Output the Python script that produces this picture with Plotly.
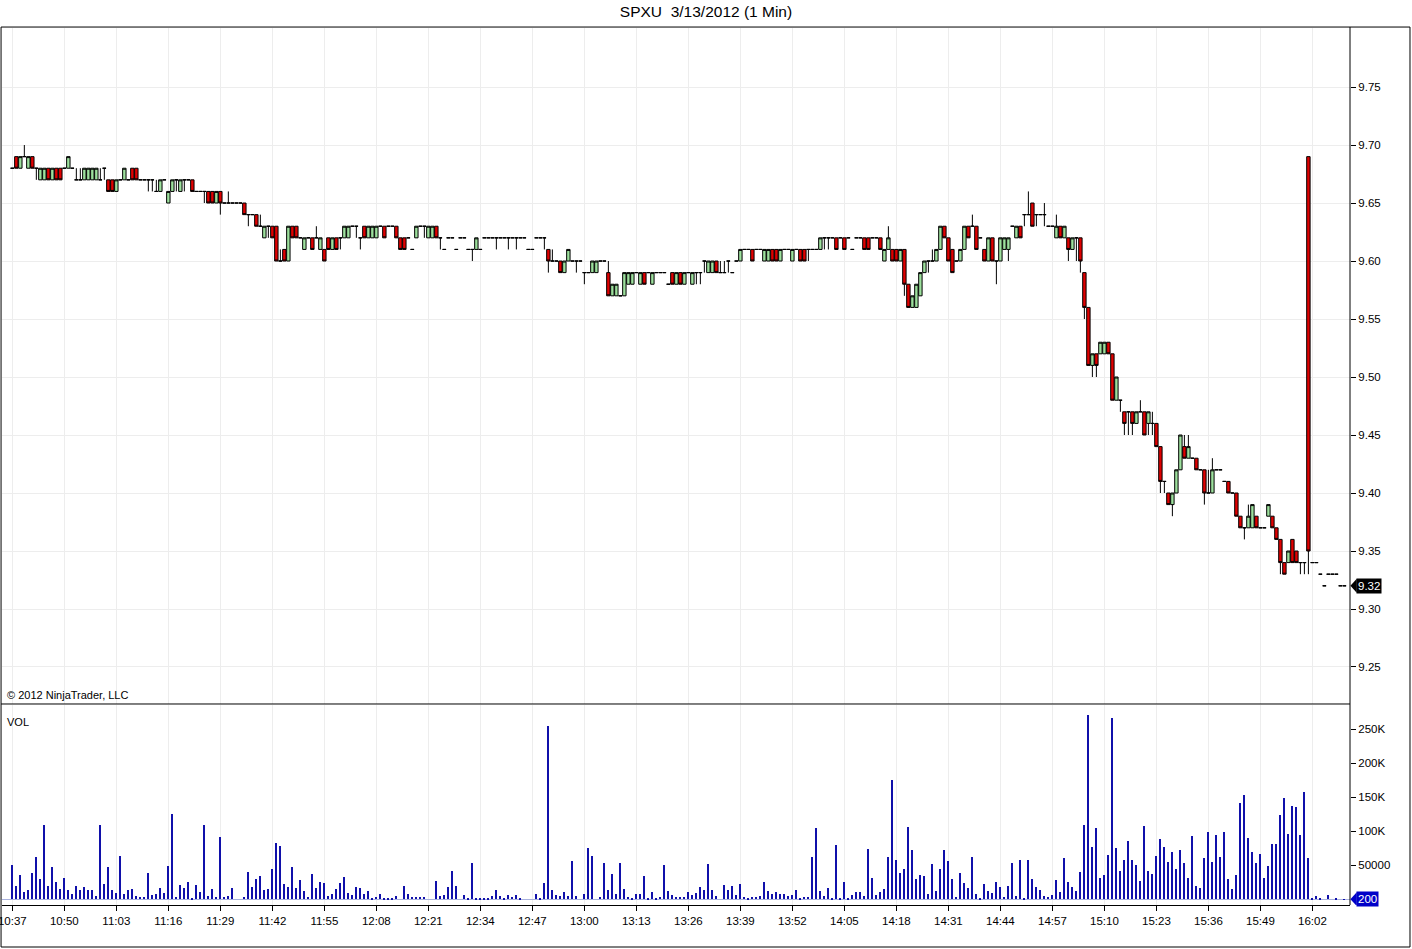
import pandas as pd
import plotly.graph_objects as go
from plotly.subplots import make_subplots

title = "SPXU\u00a0 3/13/2012 (1 Min)"
start = "2012-03-13 10:37"

# 1-minute bars from 10:37
opens = [
    9.68, 9.69, 9.68, 9.69, 9.68, 9.69, 9.68, 9.67, 9.67, 9.68,
    9.67, 9.68, 9.68, 9.68, 9.68, 9.68, 9.67, 9.67, 9.67, 9.67,
    9.67, 9.67, 9.67, 9.68, 9.67, 9.67, 9.66, 9.67, 9.67, 9.67,
    9.68, 9.68, 9.67, 9.67, 9.67, 9.67, 9.66, 9.66, 9.67, 9.65,
    9.66, 9.67, 9.66, 9.67, 9.67, 9.67, 9.66, 9.66, 9.66, 9.66,
    9.66, 9.65, 9.66, 9.65, 9.65, 9.65, 9.65, 9.65, 9.65, 9.64,
    9.64, 9.64, 9.63, 9.62, 9.63, 9.63, 9.63, 9.60, 9.61, 9.60,
    9.63, 9.63, 9.62, 9.61, 9.62, 9.62, 9.62, 9.61, 9.61, 9.62,
    9.61, 9.62, 9.62, 9.62, 9.62, 9.63, 9.63, 9.62, 9.63, 9.62,
    9.62, 9.62, 9.63, 9.63, 9.63, 9.63, 9.63, 9.62, 9.62, 9.62,
    9.61, 9.62, 9.63, 9.63, 9.62, 9.62, 9.63, 9.62, 9.61, 9.62,
    9.62, 9.61, 9.62, 9.62, 9.61, 9.61, 9.61, 9.61, 9.62, 9.62,
    9.62, 9.62, 9.62, 9.62, 9.62, 9.62, 9.62, 9.62, 9.62, 9.61,
    9.61, 9.62, 9.62, 9.62, 9.61, 9.60, 9.60, 9.60, 9.59, 9.60,
    9.60, 9.60, 9.60, 9.59, 9.59, 9.59, 9.59, 9.60, 9.60, 9.59,
    9.57, 9.57, 9.57, 9.57, 9.58, 9.58, 9.59, 9.58, 9.59, 9.59,
    9.58, 9.59, 9.59, 9.59, 9.58, 9.59, 9.58, 9.59, 9.58, 9.59,
    9.58, 9.59, 9.59, 9.60, 9.59, 9.59, 9.60, 9.59, 9.59, 9.60,
    9.59, 9.60, 9.60, 9.61, 9.61, 9.61, 9.61, 9.61, 9.60, 9.60,
    9.61, 9.61, 9.60, 9.61, 9.61, 9.60, 9.61, 9.61, 9.61, 9.61,
    9.61, 9.61, 9.61, 9.62, 9.62, 9.62, 9.62, 9.62, 9.62, 9.62,
    9.61, 9.62, 9.62, 9.62, 9.62, 9.62, 9.62, 9.62, 9.60, 9.61,
    9.61, 9.61, 9.60, 9.61, 9.58, 9.56, 9.56, 9.57, 9.59, 9.60,
    9.60, 9.60, 9.61, 9.63, 9.62, 9.61, 9.60, 9.60, 9.61, 9.63,
    9.63, 9.63, 9.62, 9.61, 9.60, 9.62, 9.60, 9.60, 9.61, 9.61,
    9.63, 9.62, 9.63, 9.64, 9.64, 9.65, 9.64, 9.64, 9.64, 9.63,
    9.63, 9.62, 9.63, 9.62, 9.62, 9.61, 9.62, 9.62, 9.59, 9.56,
    9.51, 9.52, 9.52, 9.52, 9.53, 9.52, 9.48, 9.48, 9.47, 9.47,
    9.47, 9.46, 9.47, 9.47, 9.46, 9.46, 9.46, 9.44, 9.41, 9.40,
    9.39, 9.40, 9.42, 9.44, 9.43, 9.43, 9.43, 9.42, 9.42, 9.40,
    9.40, 9.42, 9.42, 9.41, 9.41, 9.40, 9.40, 9.38, 9.37, 9.37,
    9.37, 9.38, 9.37, 9.37, 9.38, 9.38, 9.37, 9.36, 9.34, 9.34,
    9.36, 9.35, 9.34, 9.34, 9.69, 9.34, 9.34, 9.33, 9.32, 9.33,
    9.33, 9.33, 9.32, 9.32,
]
highs = [
    9.68, 9.69, 9.69, 9.70, 9.69, 9.69, 9.68, 9.68, 9.68, 9.68,
    9.68, 9.68, 9.68, 9.68, 9.69, 9.68, 9.68, 9.68, 9.68, 9.68,
    9.68, 9.68, 9.68, 9.68, 9.67, 9.67, 9.67, 9.67, 9.68, 9.67,
    9.68, 9.68, 9.67, 9.67, 9.67, 9.67, 9.67, 9.67, 9.67, 9.66,
    9.67, 9.67, 9.67, 9.67, 9.67, 9.67, 9.66, 9.66, 9.66, 9.66,
    9.66, 9.66, 9.66, 9.65, 9.66, 9.65, 9.65, 9.65, 9.65, 9.64,
    9.64, 9.64, 9.64, 9.63, 9.63, 9.63, 9.63, 9.61, 9.61, 9.63,
    9.63, 9.63, 9.62, 9.62, 9.62, 9.62, 9.63, 9.62, 9.61, 9.62,
    9.62, 9.62, 9.62, 9.63, 9.63, 9.63, 9.63, 9.62, 9.63, 9.63,
    9.63, 9.63, 9.63, 9.63, 9.63, 9.63, 9.63, 9.62, 9.62, 9.62,
    9.61, 9.63, 9.63, 9.63, 9.63, 9.63, 9.63, 9.62, 9.61, 9.62,
    9.62, 9.61, 9.62, 9.62, 9.61, 9.61, 9.62, 9.61, 9.62, 9.62,
    9.62, 9.62, 9.62, 9.62, 9.62, 9.62, 9.62, 9.62, 9.62, 9.61,
    9.61, 9.62, 9.62, 9.62, 9.61, 9.61, 9.60, 9.60, 9.60, 9.61,
    9.60, 9.60, 9.60, 9.59, 9.59, 9.60, 9.60, 9.60, 9.60, 9.60,
    9.58, 9.58, 9.57, 9.59, 9.59, 9.59, 9.59, 9.59, 9.59, 9.59,
    9.59, 9.59, 9.59, 9.59, 9.58, 9.59, 9.59, 9.59, 9.59, 9.59,
    9.59, 9.59, 9.59, 9.60, 9.60, 9.60, 9.60, 9.60, 9.60, 9.60,
    9.59, 9.60, 9.61, 9.61, 9.61, 9.61, 9.61, 9.61, 9.61, 9.61,
    9.61, 9.61, 9.61, 9.61, 9.61, 9.61, 9.61, 9.61, 9.61, 9.61,
    9.61, 9.61, 9.62, 9.62, 9.62, 9.62, 9.62, 9.62, 9.62, 9.62,
    9.61, 9.62, 9.62, 9.62, 9.62, 9.62, 9.62, 9.62, 9.61, 9.63,
    9.61, 9.61, 9.61, 9.61, 9.58, 9.57, 9.58, 9.59, 9.60, 9.60,
    9.61, 9.61, 9.63, 9.63, 9.62, 9.61, 9.60, 9.61, 9.63, 9.63,
    9.64, 9.63, 9.62, 9.61, 9.62, 9.62, 9.60, 9.62, 9.62, 9.62,
    9.63, 9.63, 9.63, 9.64, 9.66, 9.65, 9.64, 9.64, 9.65, 9.63,
    9.63, 9.64, 9.63, 9.63, 9.62, 9.62, 9.62, 9.62, 9.59, 9.56,
    9.52, 9.52, 9.53, 9.53, 9.53, 9.52, 9.50, 9.48, 9.47, 9.47,
    9.47, 9.47, 9.48, 9.47, 9.47, 9.47, 9.46, 9.44, 9.41, 9.40,
    9.40, 9.42, 9.45, 9.45, 9.45, 9.43, 9.43, 9.42, 9.42, 9.42,
    9.43, 9.42, 9.42, 9.41, 9.41, 9.40, 9.40, 9.38, 9.37, 9.39,
    9.39, 9.38, 9.37, 9.37, 9.39, 9.38, 9.37, 9.36, 9.34, 9.35,
    9.36, 9.35, 9.34, 9.34, 9.69, 9.34, 9.34, 9.33, 9.32, 9.33,
    9.33, 9.33, 9.32, 9.32,
]
lows = [
    9.68, 9.68, 9.68, 9.69, 9.68, 9.68, 9.67, 9.67, 9.67, 9.67,
    9.67, 9.67, 9.67, 9.68, 9.68, 9.68, 9.67, 9.67, 9.67, 9.67,
    9.67, 9.67, 9.67, 9.67, 9.66, 9.66, 9.66, 9.67, 9.67, 9.67,
    9.67, 9.67, 9.67, 9.67, 9.66, 9.66, 9.66, 9.66, 9.67, 9.65,
    9.66, 9.66, 9.66, 9.66, 9.67, 9.66, 9.66, 9.66, 9.65, 9.65,
    9.65, 9.65, 9.64, 9.65, 9.65, 9.65, 9.65, 9.65, 9.64, 9.63,
    9.64, 9.63, 9.63, 9.62, 9.62, 9.62, 9.60, 9.60, 9.60, 9.60,
    9.62, 9.62, 9.62, 9.61, 9.62, 9.61, 9.62, 9.61, 9.60, 9.61,
    9.61, 9.61, 9.61, 9.62, 9.62, 9.63, 9.62, 9.61, 9.62, 9.62,
    9.62, 9.62, 9.63, 9.62, 9.63, 9.63, 9.62, 9.61, 9.61, 9.62,
    9.61, 9.62, 9.63, 9.62, 9.62, 9.62, 9.62, 9.61, 9.61, 9.62,
    9.62, 9.61, 9.62, 9.62, 9.61, 9.60, 9.61, 9.61, 9.62, 9.62,
    9.62, 9.61, 9.62, 9.62, 9.61, 9.62, 9.61, 9.62, 9.62, 9.61,
    9.61, 9.62, 9.62, 9.61, 9.59, 9.60, 9.60, 9.59, 9.59, 9.60,
    9.60, 9.59, 9.60, 9.58, 9.59, 9.59, 9.59, 9.60, 9.60, 9.57,
    9.57, 9.57, 9.57, 9.57, 9.58, 9.58, 9.59, 9.58, 9.58, 9.59,
    9.58, 9.59, 9.59, 9.59, 9.58, 9.58, 9.58, 9.58, 9.58, 9.59,
    9.58, 9.58, 9.58, 9.59, 9.59, 9.59, 9.59, 9.59, 9.59, 9.59,
    9.59, 9.60, 9.60, 9.61, 9.61, 9.60, 9.61, 9.61, 9.60, 9.60,
    9.60, 9.60, 9.60, 9.61, 9.61, 9.60, 9.61, 9.60, 9.60, 9.60,
    9.61, 9.61, 9.61, 9.61, 9.61, 9.62, 9.61, 9.62, 9.61, 9.62,
    9.61, 9.62, 9.62, 9.61, 9.61, 9.62, 9.62, 9.61, 9.60, 9.61,
    9.60, 9.60, 9.60, 9.57, 9.56, 9.56, 9.56, 9.57, 9.59, 9.59,
    9.60, 9.60, 9.61, 9.62, 9.60, 9.59, 9.60, 9.60, 9.61, 9.62,
    9.63, 9.61, 9.62, 9.60, 9.60, 9.60, 9.58, 9.60, 9.61, 9.60,
    9.63, 9.62, 9.62, 9.63, 9.64, 9.63, 9.63, 9.64, 9.63, 9.63,
    9.63, 9.62, 9.62, 9.62, 9.60, 9.61, 9.60, 9.59, 9.55, 9.51,
    9.50, 9.50, 9.52, 9.52, 9.52, 9.48, 9.48, 9.47, 9.45, 9.45,
    9.45, 9.46, 9.47, 9.45, 9.45, 9.45, 9.44, 9.40, 9.40, 9.39,
    9.38, 9.40, 9.42, 9.43, 9.43, 9.43, 9.42, 9.42, 9.39, 9.40,
    9.40, 9.42, 9.42, 9.41, 9.40, 9.40, 9.38, 9.37, 9.36, 9.37,
    9.37, 9.37, 9.37, 9.37, 9.38, 9.37, 9.36, 9.33, 9.33, 9.34,
    9.34, 9.34, 9.33, 9.33, 9.33, 9.34, 9.34, 9.33, 9.32, 9.33,
    9.33, 9.33, 9.32, 9.32,
]
closes = [
    9.68, 9.68, 9.69, 9.69, 9.69, 9.68, 9.68, 9.68, 9.68, 9.67,
    9.68, 9.67, 9.67, 9.68, 9.69, 9.68, 9.67, 9.67, 9.68, 9.68,
    9.68, 9.68, 9.67, 9.68, 9.66, 9.66, 9.67, 9.67, 9.68, 9.67,
    9.67, 9.67, 9.67, 9.67, 9.67, 9.67, 9.66, 9.67, 9.67, 9.66,
    9.67, 9.67, 9.67, 9.67, 9.67, 9.66, 9.66, 9.66, 9.66, 9.65,
    9.65, 9.66, 9.65, 9.65, 9.65, 9.65, 9.65, 9.65, 9.64, 9.64,
    9.64, 9.63, 9.63, 9.63, 9.63, 9.62, 9.60, 9.60, 9.60, 9.63,
    9.62, 9.62, 9.62, 9.62, 9.62, 9.61, 9.62, 9.62, 9.60, 9.61,
    9.62, 9.61, 9.62, 9.63, 9.63, 9.63, 9.63, 9.62, 9.62, 9.63,
    9.63, 9.63, 9.63, 9.62, 9.63, 9.63, 9.62, 9.61, 9.61, 9.62,
    9.61, 9.63, 9.63, 9.63, 9.63, 9.63, 9.62, 9.62, 9.61, 9.62,
    9.62, 9.61, 9.62, 9.62, 9.61, 9.61, 9.62, 9.61, 9.62, 9.62,
    9.62, 9.62, 9.62, 9.62, 9.62, 9.62, 9.62, 9.62, 9.62, 9.61,
    9.61, 9.62, 9.62, 9.62, 9.60, 9.60, 9.60, 9.59, 9.60, 9.61,
    9.60, 9.60, 9.60, 9.59, 9.59, 9.60, 9.60, 9.60, 9.60, 9.57,
    9.58, 9.58, 9.57, 9.59, 9.59, 9.59, 9.59, 9.59, 9.58, 9.59,
    9.59, 9.59, 9.59, 9.59, 9.58, 9.58, 9.59, 9.58, 9.59, 9.59,
    9.59, 9.59, 9.59, 9.60, 9.60, 9.60, 9.59, 9.59, 9.59, 9.60,
    9.59, 9.60, 9.61, 9.61, 9.61, 9.60, 9.61, 9.61, 9.61, 9.61,
    9.60, 9.60, 9.61, 9.61, 9.61, 9.61, 9.61, 9.60, 9.60, 9.61,
    9.61, 9.61, 9.62, 9.62, 9.62, 9.62, 9.61, 9.62, 9.61, 9.62,
    9.61, 9.62, 9.62, 9.61, 9.61, 9.62, 9.62, 9.61, 9.61, 9.62,
    9.60, 9.60, 9.61, 9.58, 9.56, 9.57, 9.58, 9.59, 9.60, 9.60,
    9.60, 9.61, 9.63, 9.62, 9.60, 9.59, 9.60, 9.61, 9.63, 9.62,
    9.63, 9.61, 9.62, 9.60, 9.62, 9.60, 9.60, 9.62, 9.62, 9.62,
    9.63, 9.63, 9.62, 9.64, 9.64, 9.63, 9.64, 9.64, 9.64, 9.63,
    9.63, 9.63, 9.62, 9.63, 9.61, 9.62, 9.62, 9.60, 9.56, 9.51,
    9.52, 9.51, 9.53, 9.53, 9.52, 9.48, 9.50, 9.48, 9.46, 9.47,
    9.46, 9.47, 9.47, 9.45, 9.47, 9.46, 9.44, 9.41, 9.41, 9.39,
    9.40, 9.42, 9.45, 9.43, 9.44, 9.43, 9.42, 9.42, 9.40, 9.40,
    9.42, 9.42, 9.42, 9.41, 9.40, 9.40, 9.38, 9.37, 9.37, 9.38,
    9.39, 9.37, 9.37, 9.37, 9.39, 9.37, 9.36, 9.34, 9.33, 9.35,
    9.34, 9.34, 9.34, 9.34, 9.35, 9.34, 9.34, 9.33, 9.32, 9.33,
    9.33, 9.33, 9.32, 9.32,
]
# volume in thousands of shares
volumes_k = [
    50, 19, 36, 11, 13, 39, 62, 30, 109, 19,
    48, 25, 15, 31, 14, 8, 20, 13, 18, 13,
    13, 5, 109, 23, 48, 13, 10, 64, 8, 13,
    15, 5, 3, 3, 39, 7, 8, 17, 10, 49,
    126, 3, 21, 17, 25, 2, 21, 11, 109, 5,
    15, 3, 92, 3, 5, 17, 0, 0, 3, 40,
    18, 30, 34, 14, 15, 45, 83, 78, 23, 18,
    48, 17, 28, 12, 3, 37, 17, 25, 24, 5,
    8, 15, 24, 33, 9, 6, 18, 17, 8, 12,
    2, 3, 8, 2, 2, 2, 5, 0, 20, 8,
    3, 3, 3, 3, 0, 0, 27, 5, 6, 18,
    42, 19, 0, 6, 2, 54, 2, 2, 2, 2,
    5, 14, 5, 2, 6, 4, 6, 2, 0, 0,
    0, 8, 2, 24, 255, 14, 6, 5, 11, 5,
    56, 5, 0, 8, 75, 64, 0, 4, 53, 14,
    37, 8, 53, 15, 4, 2, 8, 8, 34, 2,
    11, 2, 4, 50, 12, 6, 4, 4, 4, 11,
    6, 9, 18, 14, 52, 14, 5, 0, 21, 14,
    20, 6, 23, 4, 2, 4, 4, 5, 25, 12,
    8, 11, 8, 8, 5, 6, 14, 2, 4, 4,
    62, 105, 12, 5, 17, 2, 80, 2, 25, 2,
    6, 11, 11, 5, 74, 31, 6, 11, 15, 62,
    175, 58, 39, 45, 106, 73, 30, 36, 34, 8,
    52, 12, 45, 73, 56, 30, 3, 39, 24, 17,
    62, 8, 2, 23, 12, 9, 25, 18, 3, 20,
    53, 5, 58, 2, 58, 30, 18, 14, 5, 3,
    6, 28, 11, 61, 25, 18, 12, 40, 109, 271,
    77, 105, 31, 36, 65, 267, 75, 42, 58, 86,
    58, 50, 27, 108, 42, 37, 64, 89, 77, 55,
    70, 45, 73, 53, 31, 93, 20, 17, 61, 99,
    55, 95, 62, 99, 30, 15, 36, 142, 153, 90,
    70, 53, 67, 31, 49, 81, 81, 124, 149, 96,
    137, 136, 95, 158, 61, 2, 5, 2, 0, 6,
    0, 2, 0, 0.2,
]

price_ticks = [9.25, 9.30, 9.35, 9.40, 9.45, 9.50, 9.55, 9.60, 9.65, 9.70, 9.75]
vol_ticks = [50, 100, 150, 200, 250]
vol_tick_text = ["50000", "100K", "150K", "200K", "250K"]

times = pd.date_range(start, periods=len(closes), freq="min")
x_range = [times[0] - pd.Timedelta(seconds=155), times[0] + pd.Timedelta(seconds=20064)]

fnt = "Liberation Sans, Arial, sans-serif"
grid = "#ededed"

fig = make_subplots(rows=2, cols=1, shared_xaxes=True, vertical_spacing=0.0)

fig.add_trace(go.Candlestick(x=times, open=opens, high=highs, low=lows, close=closes,
                             increasing=dict(fillcolor="#9de09d", line=dict(color="black", width=1)),
                             decreasing=dict(fillcolor="#e00000", line=dict(color="black", width=1)),
                             whiskerwidth=0, showlegend=False, name="SPXU", hoverinfo="skip"),
              row=1, col=1)
fig.add_trace(go.Bar(x=times, y=volumes_k, width=30000, marker=dict(color="#1010aa", line_width=0),
                     showlegend=False, hoverinfo="skip"), row=2, col=1)

fig.update_xaxes(range=x_range, showgrid=True, gridcolor=grid, gridwidth=1, zeroline=False,
                 automargin=False, tick0=start, dtick=13 * 60 * 1000, tickformat="%H:%M",
                 rangeslider_visible=False)
fig.update_xaxes(showticklabels=False, ticks="", row=1, col=1)
fig.update_xaxes(showticklabels=True, ticks="outside", ticklen=5, tickcolor="black",
                 showline=True, linecolor="black", linewidth=1, ticklabeloverflow="allow",
                 tickfont=dict(size=11.5, color="black"), row=2, col=1)

fig.update_layout(
    yaxis=dict(domain=[0.2292, 1], side="right", range=[9.2181, 9.8009], tickvals=price_ticks,
               tickformat=".2f", ticks="outside", ticklen=5, tickcolor="black", automargin=False,
               showgrid=True, gridcolor=grid, zeroline=False, tickfont=dict(size=11.5, color="black")),
    yaxis2=dict(domain=[0, 0.2281], side="right", range=[-8.4, 285.7], tickvals=vol_ticks,
                ticktext=vol_tick_text, ticks="outside", ticklen=5, tickcolor="black",
                automargin=False, showgrid=False, zeroline=True, zerolinecolor="#a9b2de",
                zerolinewidth=1, tickfont=dict(size=11.5, color="black")),
)

# last price / last volume markers on the right axis
last_p = closes[-1]
last_v = volumes_k[-1]
annotations = [
    dict(text="\u00a9 2012 NinjaTrader, LLC", x=0.0022, y=0.2395, xref="paper", yref="paper",
         xanchor="left", yanchor="middle", showarrow=False, font=dict(size=11, color="black")),
    dict(text="VOL", x=0.0022, y=0.2087, xref="paper", yref="paper",
         xanchor="left", yanchor="middle", showarrow=False, font=dict(size=11, color="black")),
    dict(text=f"{last_p:.2f}", x=1.0048, y=last_p, xref="paper", yref="y", xanchor="left",
         yanchor="middle", showarrow=False, bgcolor="black", borderpad=1,
         font=dict(size=11.5, color="white")),
    dict(text=f"{last_v * 1000:.0f}", x=1.0048, y=last_v, xref="paper", yref="y2", xanchor="left",
         yanchor="middle", showarrow=False, bgcolor="#0000c8", borderpad=1,
         font=dict(size=11.5, color="white")),
]

shapes = [
    dict(type="rect", xref="paper", yref="paper", x0=-0.0007, x1=1.0445, y0=-0.0479, y1=1.0011,
         line=dict(color="black", width=1)),
    dict(type="line", xref="paper", yref="paper", x0=-0.0007, x1=1, y0=0.2292, y1=0.2292,
         line=dict(color="black", width=1)),
    dict(type="line", xref="paper", yref="paper", x0=1, x1=1, y0=0, y1=1.0011,
         line=dict(color="black", width=1)),
    dict(type="path", xref="paper", yref="y",
         path=f"M 1.0003,{last_p} L 1.0050,{last_p + 0.006} L 1.0050,{last_p - 0.006} Z",
         fillcolor="black", line=dict(width=0)),
    dict(type="path", xref="paper", yref="y2",
         path=f"M 1.0003,{last_v} L 1.0050,{last_v + 10} L 1.0050,{last_v - 10} Z",
         fillcolor="#0000c8", line=dict(width=0)),
]

fig.update_layout(
    width=1412, height=949,
    margin=dict(l=2, r=62, t=28, b=44, autoexpand=False),
    title=dict(text=title, x=0.5, xanchor="center", y=1 - 12 / 949, yanchor="middle",
               font=dict(size=15.5, color="black", family=fnt)),
    font=dict(family=fnt, color="black"),
    plot_bgcolor="white", paper_bgcolor="white",
    boxgap=0.15, boxgroupgap=0,
    bargap=0, hovermode=False,
    annotations=annotations, shapes=shapes,
)

fig.write_html("out.html", config={"displayModeBar": False},
               post_script="document.body.style.margin='0';")
